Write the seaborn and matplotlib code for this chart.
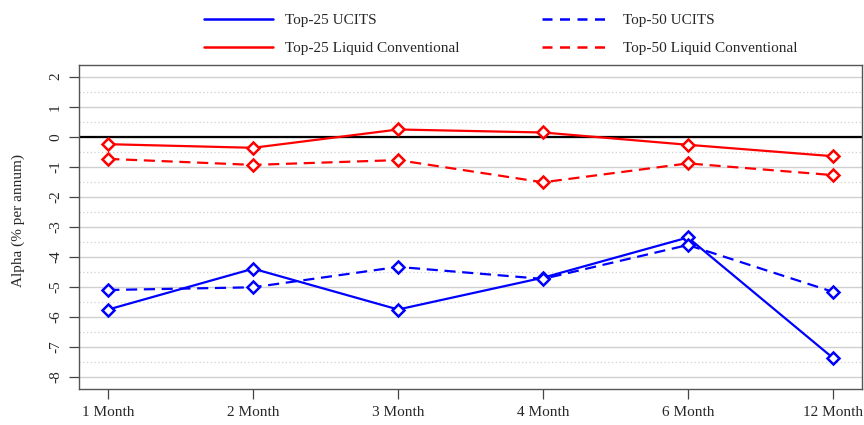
import numpy as np
import pandas as pd
import matplotlib
matplotlib.use("Agg")
import matplotlib.pyplot as plt
from matplotlib.lines import Line2D
import seaborn as sns

# data
horizons = ["1 Month", "2 Month", "3 Month", "4 Month", "6 Month", "12 Month"]
top25_ucits = [-5.76, -4.40, -5.76, -4.70, -3.36, -7.37]
top50_ucits = [-5.11, -5.02, -4.34, -4.74, -3.61, -5.17]
top25_liquid = [-0.25, -0.37, 0.24, 0.14, -0.27, -0.65]
top50_liquid = [-0.74, -0.94, -0.78, -1.52, -0.89, -1.28]

series = {
    "Top-25 UCITS": (top25_ucits, "blue", "-"),
    "Top-50 UCITS": (top50_ucits, "blue", "--"),
    "Top-25 Liquid Conventional": (top25_liquid, "red", "-"),
    "Top-50 Liquid Conventional": (top50_liquid, "red", "--"),
}

sns.set_style("white")
plt.rcParams["font.family"] = ["Liberation Serif", "DejaVu Serif"]

fig = plt.figure(figsize=(8.64, 4.25), dpi=100)
ax = fig.add_axes([0.0918, 0.0854, 0.9056, 0.7624])

# grid: solid at integers, dotted at half steps
for v in np.arange(-8, 3, 1):
    ax.axhline(v, color="#d0d0d0", lw=1.0, zorder=0)
for v in np.arange(-8.5, 2.6, 1):
    ax.axhline(v, color="#d0d0d0", lw=0.9, ls=(0, (1, 2)), zorder=0)
ax.axhline(0, color="black", lw=1.6, zorder=1)

x = np.arange(len(horizons))
for name, (vals, col, ls) in series.items():
    sns.lineplot(x=x, y=vals, ax=ax, color=col, linestyle=ls, lw=1.6,
                 marker="D", markersize=6.5, markerfacecolor="white",
                 markeredgecolor=col, markeredgewidth=1.8, zorder=3)
    if ls == "--":
        ax.lines[-1].set_dashes((5, 3))

ax.set_xlim(-0.2, 5.2)
ax.set_ylim(-8.4, 2.4)
ax.set_xticks(x)
ax.set_xticklabels(horizons, fontsize=11)
ax.set_yticks(np.arange(-8, 3, 1))
ax.set_yticklabels([str(v) for v in range(-8, 3)], fontsize=11,
                   rotation=90, va="center")
ax.tick_params(axis="both", direction="out", length=7.5, width=0.9,
               color="#444444", bottom=True, left=True, pad=5)
ax.set_ylabel("Alpha (% per annum)", fontsize=11)
ax.yaxis.set_label_coords(-0.070, 0.52)
for s in ax.spines.values():
    s.set_color("#555555")
    s.set_linewidth(1.0)

handles = []
labels = []
for name, (vals, col, ls) in series.items():
    h = Line2D([0], [0], color=col, lw=1.8, linestyle=ls)
    if ls == "--":
        h.set_dashes((4, 3))
    handles.append(h)
    labels.append(name)
# order: row-wise with 2 columns
order = [0, 2, 1, 3]
fig.legend([handles[i] for i in order], [labels[i] for i in order],
           ncol=2, loc="upper left", bbox_to_anchor=(0.22, 1.0),
           frameon=False, fontsize=11, handlelength=4.5,
           columnspacing=5.4, handletextpad=0.8, labelspacing=0.9)

fig.savefig("out.png", dpi=100)
